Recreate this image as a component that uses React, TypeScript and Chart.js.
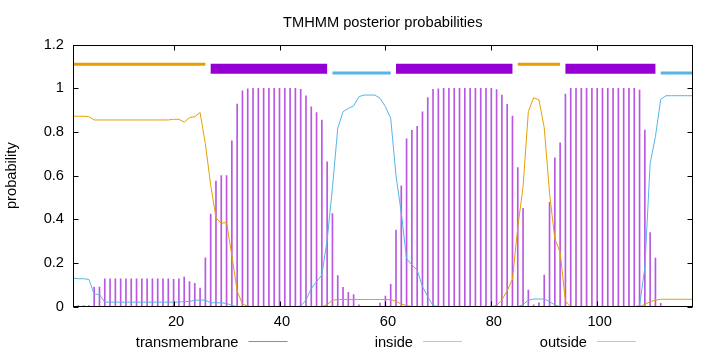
import React, { useEffect, useRef } from 'react';
import { Chart, registerables } from 'chart.js';

Chart.register(...registerables);

// ---------- data ----------
const TITLE = 'TMHMM posterior probabilities';
const Y_LABEL = 'probability';
const X_MIN = 1;
const X_MAX = 118;
const X_TICKS = [20, 40, 60, 80, 100];
const Y_TICKS = [0, 0.2, 0.4, 0.6, 0.8, 1, 1.2];

// posterior probability per residue (residue 1..118)
const TRANSMEMBRANE = [
  0.005, 0.005, 0.005, 0.005, 0.09, 0.09,
  0.128, 0.128, 0.128, 0.128, 0.128, 0.128, 0.128, 0.128, 0.128, 0.128, 0.128, 0.128, 0.128,
  0.125, 0.128, 0.136, 0.115, 0.107, 0.085,
  0.224, 0.424, 0.575, 0.6, 0.6, 0.759, 0.928, 0.988, 0.997,
  1, 1, 1, 1, 1, 1, 1, 1, 1,
  0.995, 0.966, 0.915, 0.889, 0.855, 0.663, 0.426, 0.142, 0.089, 0.066, 0.055, 0.008, 0.002, 0.001, 0.002, 0.017, 0.049, 0.102,
  0.351, 0.553, 0.769, 0.808, 0.826, 0.892, 0.957, 0.995, 0.998,
  1, 1, 1, 1, 1, 1, 1, 1, 1, 1,
  0.994, 0.969, 0.927, 0.873, 0.637, 0.45, 0.076, 0.008, 0.018, 0.145, 0.478, 0.682, 0.75, 0.974,
  1, 1, 1, 1, 1, 1, 1, 1, 1, 1, 1, 1, 1,
  0.992, 0.809, 0.339, 0.223, 0.015,
  0, 0, 0, 0, 0, 0,
];

const INSIDE = [
  0.131, 0.128, 0.128, 0.125, 0.058, 0.056,
  0.021, 0.021, 0.021, 0.021, 0.021, 0.021, 0.021, 0.021, 0.021, 0.021, 0.021, 0.021, 0.021, 0.021, 0.021,
  0.024, 0.024, 0.03, 0.03, 0.03, 0.018, 0.018, 0.018, 0.015, 0.006,
  0, 0, 0, 0, 0, 0, 0, 0, 0, 0, 0, 0,
  0.003, 0.03, 0.084, 0.115, 0.145, 0.305, 0.544, 0.817, 0.893, 0.908, 0.919, 0.962, 0.969, 0.969, 0.969, 0.954, 0.916, 0.863, 0.6, 0.43, 0.221, 0.191, 0.168, 0.092, 0.046, 0.005,
  0, 0, 0, 0, 0, 0, 0, 0, 0, 0, 0, 0, 0, 0, 0, 0,
  0.01, 0.03, 0.035, 0.035, 0.035, 0.023, 0.008,
  0, 0, 0, 0, 0, 0, 0, 0, 0, 0, 0, 0, 0, 0, 0,
  0.005, 0.18, 0.656, 0.779, 0.95,
  0.966, 0.966, 0.966, 0.966, 0.966, 0.966,
];

const OUTSIDE = [
  0.872, 0.872, 0.872, 0.87,
  0.855, 0.855, 0.855, 0.855, 0.855, 0.855, 0.855, 0.855, 0.855, 0.855, 0.855, 0.855, 0.855, 0.855, 0.855,
  0.858, 0.858, 0.845, 0.866, 0.87, 0.889, 0.746, 0.558, 0.407, 0.382, 0.385, 0.235, 0.072, 0.012, 0.003,
  0, 0, 0, 0, 0, 0, 0, 0, 0, 0, 0, 0, 0, 0,
  0.01, 0.03, 0.033, 0.033, 0.033, 0.033, 0.033, 0.033, 0.033, 0.033, 0.033, 0.033, 0.033, 0.025, 0.012, 0.005,
  0, 0, 0, 0, 0, 0, 0, 0, 0, 0, 0, 0, 0, 0, 0, 0,
  0.006, 0.031, 0.073, 0.127, 0.363, 0.55, 0.894, 0.957, 0.947, 0.82, 0.52, 0.31, 0.25, 0.026,
  0, 0, 0, 0, 0, 0, 0, 0, 0, 0, 0, 0, 0, 0,
  0.011, 0.023, 0.03, 0.034, 0.034, 0.034, 0.034, 0.034, 0.034, 0.034,
];

// predicted topology (start, end residue)
const OUTSIDE_SEGMENTS = [[1, 26], [85, 93]];
const TM_SEGMENTS = [[27, 49], [62, 84], [94, 111]];
const INSIDE_SEGMENTS = [[50, 61], [112, 118]];
const OUTSIDE_LEVEL = 1.11;
const TM_LEVEL = 1.09;
const INSIDE_LEVEL = 1.07;

const LEGEND_LABELS = ['transmembrane', 'inside', 'outside'];

// ---------- styles ----------
const TM_COLOR = '#9400d3';
const TM_IMPULSE = 'rgba(148,0,211,0.66)';
const INSIDE_COLOR = '#56b4e9';
const OUTSIDE_COLOR = '#e69f00';
const FONT_FAMILY = '"Liberation Sans", Arial, sans-serif';
const FONT_SIZE = 14.67;

const toPoints = (vals: number[]) => vals.map((v, i) => ({ x: i + 1, y: v }));
const segPoints = (segs: number[][], level: number) => {
  const pts: { x: number; y: number | null }[] = [];
  segs.forEach(([a, b], i) => {
    if (i > 0) pts.push({ x: a - 0.5, y: null });
    pts.push({ x: a, y: level });
    pts.push({ x: b, y: level });
  });
  return pts;
};

const framePlugin = {
  id: 'gnuFrame',
  afterDatasetsDraw(chart: any) {
    const { ctx, chartArea: a, scales } = chart;
    ctx.save();
    ctx.strokeStyle = '#000';
    ctx.lineWidth = 1;
    const L = Math.round(a.left) + 0.5;
    const R = Math.round(a.right) - 0.5;
    const T = Math.round(a.top) + 0.5;
    const B = Math.round(a.bottom) - 0.5;
    ctx.strokeRect(L, T, R - L, B - T);
    const len = 5;
    ctx.beginPath();
    Y_TICKS.forEach((v) => {
      const y = Math.round(scales.y.getPixelForValue(v)) + 0.5;
      ctx.moveTo(L, y); ctx.lineTo(L + len, y);
      ctx.moveTo(R, y); ctx.lineTo(R - len, y);
    });
    X_TICKS.forEach((v) => {
      const x = Math.round(scales.x.getPixelForValue(v)) + 0.5;
      ctx.moveTo(x, B); ctx.lineTo(x, B - len);
      ctx.moveTo(x, T); ctx.lineTo(x, T + len);
    });
    ctx.stroke();
    ctx.restore();
  },
  afterDraw(chart: any) {
    const { ctx } = chart;
    const colors = [TM_COLOR, INSIDE_COLOR, OUTSIDE_COLOR];
    const textRights = [238.5, 413, 587];
    const y = 341.5;
    ctx.save();
    ctx.font = `${FONT_SIZE}px ${FONT_FAMILY}`;
    ctx.fillStyle = '#000';
    ctx.textAlign = 'right';
    ctx.textBaseline = 'middle';
    LEGEND_LABELS.forEach((lab, i) => {
      ctx.fillText(lab, textRights[i], y + 1);
      ctx.strokeStyle = colors[i];
      ctx.globalAlpha = 0.6;
      ctx.lineWidth = 1;
      ctx.beginPath();
      ctx.moveTo(textRights[i] + 10, y);
      ctx.lineTo(textRights[i] + 49, y);
      ctx.stroke();
      ctx.globalAlpha = 1;
    });
    ctx.restore();
  },
};

export default function App() {
  const ref = useRef<HTMLCanvasElement | null>(null);
  useEffect(() => {
    if (!ref.current) return;
    const font = { family: FONT_FAMILY, size: FONT_SIZE, weight: 'normal' as const };
    const chart = new Chart(ref.current, {
      type: 'bar',
      data: {
        datasets: [
          {
            type: 'line', label: 'outside topology', data: segPoints(OUTSIDE_SEGMENTS, OUTSIDE_LEVEL) as any,
            borderColor: OUTSIDE_COLOR, borderWidth: 3, pointRadius: 0, spanGaps: false, borderCapStyle: 'butt',
          },
          {
            type: 'line', label: 'TM topology', data: segPoints(TM_SEGMENTS, TM_LEVEL) as any,
            borderColor: TM_COLOR, borderWidth: 10, pointRadius: 0, spanGaps: false, borderCapStyle: 'butt',
          },
          {
            type: 'line', label: 'inside topology', data: segPoints(INSIDE_SEGMENTS, INSIDE_LEVEL) as any,
            borderColor: INSIDE_COLOR, borderWidth: 3, pointRadius: 0, spanGaps: false, borderCapStyle: 'butt',
          },
          {
            type: 'line', label: LEGEND_LABELS[2], data: toPoints(OUTSIDE) as any,
            borderColor: OUTSIDE_COLOR, borderWidth: 1, pointRadius: 0, tension: 0,
          },
          {
            type: 'line', label: LEGEND_LABELS[1], data: toPoints(INSIDE) as any,
            borderColor: INSIDE_COLOR, borderWidth: 1, pointRadius: 0, tension: 0,
          },
          {
            type: 'bar', label: LEGEND_LABELS[0], data: toPoints(TRANSMEMBRANE) as any,
            backgroundColor: TM_IMPULSE, borderWidth: 0, barThickness: 1,
          },
        ],
      },
      options: {
        animation: false,
        responsive: false,
        devicePixelRatio: 1,
        layout: { padding: { left: 0, right: 27.5, top: 0, bottom: 0 } },
        plugins: {
          legend: { display: false },
          tooltip: { enabled: false },
          title: {
            display: true, text: TITLE, fullSize: false, color: '#000', font,
            padding: { top: 14, bottom: 13 },
          },
        },
        scales: {
          x: {
            type: 'linear', min: X_MIN, max: X_MAX, offset: false,
            grid: { display: false, drawTicks: false }, border: { display: false },
            ticks: { color: '#000', font, padding: 6.8, labelOffset: 2.5, maxRotation: 0, autoSkip: false, callback: (v: any) => String(v) },
            afterBuildTicks: (s: any) => { s.ticks = X_TICKS.map((v) => ({ value: v })); },
            afterFit: (s: any) => { s.height = 45.3; },
          },
          y: {
            type: 'linear', min: 0, max: 1.2,
            grid: { display: false, drawTicks: false }, border: { display: false },
            ticks: { color: '#000', font, padding: 9, callback: (v: any) => String(+Number(v).toFixed(1)) },
            afterBuildTicks: (s: any) => { s.ticks = Y_TICKS.map((v) => ({ value: v })); },
            afterFit: (s: any) => { s.width = 73; },
            title: { display: true, text: Y_LABEL, color: '#000', font, padding: { top: 3, bottom: 0 } },
          },
        },
      } as any,
      plugins: [framePlugin],
    });
    return () => chart.destroy();
  }, []);
  return (
    <div style={{ position: 'absolute', left: 0, top: 0, width: 720, height: 352, background: '#fff' }}>
      <canvas ref={ref} width={720} height={352} style={{ display: 'block', width: 720, height: 352 }} />
    </div>
  );
}
